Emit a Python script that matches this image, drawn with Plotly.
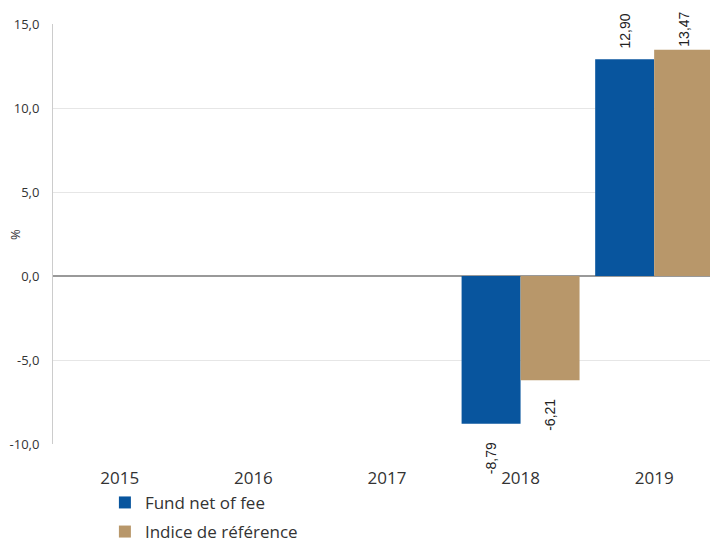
import plotly.graph_objects as go

years = ["2015", "2016", "2017", "2018", "2019"]
fund = [None, None, None, -8.79, 12.90]
index_ref = [None, None, None, -6.21, 13.47]
fund_labels = ["", "", "", "-8,79", "12,90"]
index_labels = ["", "", "", "-6,21", "13,47"]
y_ticks = [-10, -5, 0, 5, 10, 15]
y_ticklabels = ["-10,0", "-5,0", "0,0", "5,0", "10,0", "15,0"]
y_title = "%"

NB = "\u00a0"
TOP = 13.7  # labels of positive bars end at a common height (axis units)


def pad(labels, values):
    out = []
    for t, v in zip(labels, values):
        if v is None:
            out.append("")
        elif v < 0:
            out.append(t + NB * 4)
        else:
            n = max(0, int(round((TOP - v) * 16.8 / 3.9)) - 1)
            out.append(NB * n + t)
    return out


label_font = dict(family="Liberation Sans, Arial, sans-serif", size=14, color="#222222")
cat_font = dict(family="Open Sans, sans-serif", size=17, color="#333333")
axis_font = dict(family="Open Sans, sans-serif", size=13, color="#333333")

fig = go.Figure()
fig.add_trace(go.Bar(
    x=years, y=fund, name="Fund net of fee", legendgroup="a",
    marker=dict(color="#08559E", line=dict(width=0)),
    text=pad(fund_labels, fund), textposition="outside", textangle=-90,
    textfont=label_font, cliponaxis=False,
))
fig.add_trace(go.Bar(
    x=years, y=index_ref, name="Indice de référence", legendgroup="b",
    marker=dict(color="#B8976A", line=dict(width=0)),
    text=pad(index_labels, index_ref), textposition="outside", textangle=-90,
    textfont=label_font, cliponaxis=False,
))

fig.add_annotation(
    text=y_title, textangle=-90, showarrow=False,
    xref="paper", yref="paper", x=-0.058, y=0.5,
    xanchor="center", yanchor="middle", font=axis_font,
)

fig.update_layout(
    width=710, height=543,
    margin=dict(l=53, r=0, t=24, b=99, autoexpand=False),
    paper_bgcolor="white", plot_bgcolor="white",
    barmode="group", bargap=0.117, bargroupgap=0,
    separators=", ",
    showlegend=True,
    legend=dict(
        orientation="v", x=0.079, xanchor="left",
        yref="container", y=0.107, yanchor="top",
        font=cat_font, bgcolor="rgba(0,0,0,0)", tracegroupgap=4,
        itemwidth=30,
    ),
    xaxis=dict(
        type="category", range=[-0.5, 4.418],
        showgrid=False, showline=False, ticks="",
        tickfont=cat_font, ticklabelstandoff=22,
    ),
    yaxis=dict(
        range=[-10, 15], tickvals=y_ticks, ticktext=y_ticklabels,
        showgrid=True, gridcolor="#E6E6E6", gridwidth=1,
        zeroline=True, zerolinecolor="#999999", zerolinewidth=1.5,
        showline=True, linecolor="#CCCCCC", linewidth=1,
        ticks="", tickfont=axis_font, ticklabelstandoff=10,
    ),
)

fig.write_html("out.html")
